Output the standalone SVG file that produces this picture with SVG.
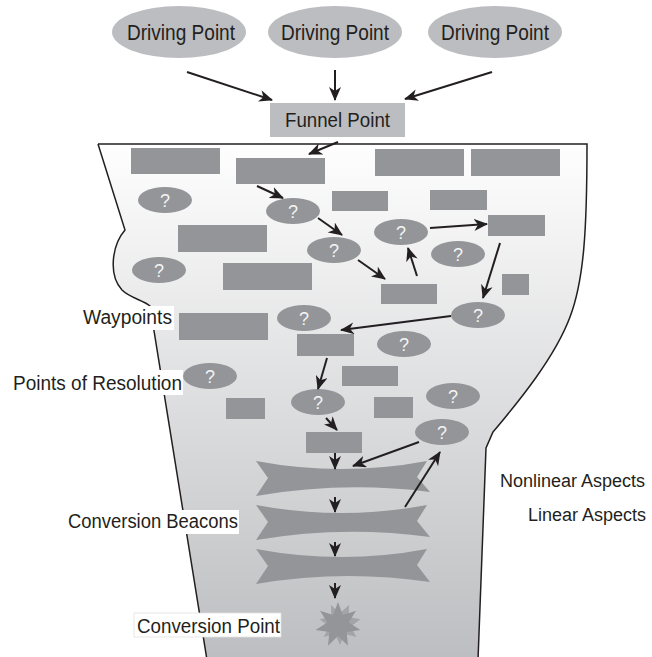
<svg xmlns="http://www.w3.org/2000/svg" width="652" height="657" viewBox="0 0 652 657">
<style>
.lbl{font-family:"Liberation Sans",Arial,sans-serif;font-size:20px;fill:#231f20}
.top{fill:#bcbdc0}
.dk{fill:#939598}
.q{font-family:"Liberation Sans",Arial,sans-serif;font-size:18px;fill:#f4f4f4;text-anchor:middle}
.c{stroke:#231f20;stroke-width:2;fill:none;marker-end:url(#ah)}
.bg{fill:#ffffff}
</style>
<defs>
<linearGradient id="fg" x1="0" y1="144" x2="0" y2="657" gradientUnits="userSpaceOnUse">
<stop offset="0" stop-color="#fefefe"/>
<stop offset="1" stop-color="#bdbec1"/>
</linearGradient>
<marker id="ah" viewBox="0 0 14 12" refX="13" refY="6" markerWidth="14" markerHeight="12" markerUnits="userSpaceOnUse" orient="auto">
<path d="M0,0 L14,6 L0,12 L4,6 Z" fill="#231f20"/>
</marker>
</defs>
<rect width="652" height="657" fill="#ffffff"/>

<g id="funnel">
<path d="M98,144 L587,144 C587,230 584,280 570,317 C555,357 520,400 493,432 L486,448 L478,660 L207,660 L150,306 C143,300 130,298 122,290 C108,275 112,245 125,230 Z" fill="url(#fg)"/>
<path d="M98,144 L587,144 C587,230 584,280 570,317 C555,357 520,400 493,432 L486,448 L478,660" fill="none" stroke="#231f20" stroke-width="1.5"/>
<path d="M98,144 L125,230 C112,245 108,275 122,290 C130,298 143,300 150,306 L207,660" fill="none" stroke="#231f20" stroke-width="1.5"/>
</g>

<g id="driving-point-1"><ellipse class="top" cx="179" cy="32" rx="67" ry="26"/><text class="lbl" x="127" y="40" textLength="108" lengthAdjust="spacingAndGlyphs" style="font-size:22px">Driving Point</text></g>
<g id="driving-point-2"><ellipse class="top" cx="335" cy="32" rx="67" ry="26"/><text class="lbl" x="281" y="40" textLength="108" lengthAdjust="spacingAndGlyphs" style="font-size:22px">Driving Point</text></g>
<g id="driving-point-3"><ellipse class="top" cx="495" cy="32" rx="67" ry="26"/><text class="lbl" x="441" y="40" textLength="108" lengthAdjust="spacingAndGlyphs" style="font-size:22px">Driving Point</text></g>
<g id="funnel-point"><rect class="top" x="270" y="103" width="135" height="34"/><text class="lbl" x="285" y="127" textLength="105" lengthAdjust="spacingAndGlyphs" style="font-size:21px">Funnel Point</text></g>

<g id="r1"><rect class="dk" x="131" y="148" width="89" height="26"/></g>
<g id="r2"><rect class="dk" x="236" y="158" width="89" height="26"/></g>
<g id="r3"><rect class="dk" x="375" y="149" width="89" height="27"/></g>
<g id="r4"><rect class="dk" x="471" y="149" width="89" height="27"/></g>
<g id="r5"><rect class="dk" x="332" y="191" width="56" height="20"/></g>
<g id="r6"><rect class="dk" x="430" y="190" width="57" height="20"/></g>
<g id="r7"><rect class="dk" x="178" y="225" width="89" height="27"/></g>
<g id="r8"><rect class="dk" x="488" y="215" width="57" height="21"/></g>
<g id="r9"><rect class="dk" x="223" y="263" width="89" height="27"/></g>
<g id="r10"><rect class="dk" x="381" y="284" width="56" height="20"/></g>
<g id="r11"><rect class="dk" x="502" y="274" width="27" height="21"/></g>
<g id="r12"><rect class="dk" x="179" y="313" width="89" height="27"/></g>
<g id="r13"><rect class="dk" x="297" y="334" width="57" height="22"/></g>
<g id="r14"><rect class="dk" x="342" y="366" width="56" height="20"/></g>
<g id="r15"><rect class="dk" x="226" y="398" width="39" height="21"/></g>
<g id="r16"><rect class="dk" x="374" y="397" width="39" height="21"/></g>
<g id="r17"><rect class="dk" x="306" y="432" width="56" height="21"/></g>

<g id="e1"><ellipse class="dk" cx="165" cy="200" rx="27" ry="13"/><text class="q" x="165" y="206.5">?</text></g>
<g id="e2"><ellipse class="dk" cx="293" cy="211" rx="27" ry="13"/><text class="q" x="293" y="217.5">?</text></g>
<g id="e3"><ellipse class="dk" cx="334" cy="250" rx="27" ry="13"/><text class="q" x="334" y="256.5">?</text></g>
<g id="e4"><ellipse class="dk" cx="401" cy="232" rx="27" ry="13"/><text class="q" x="401" y="238.5">?</text></g>
<g id="e5"><ellipse class="dk" cx="458" cy="254" rx="27" ry="13"/><text class="q" x="458" y="260.5">?</text></g>
<g id="e6"><ellipse class="dk" cx="159" cy="270" rx="27" ry="13"/><text class="q" x="159" y="276.5">?</text></g>
<g id="e7"><ellipse class="dk" cx="478" cy="315" rx="27" ry="13"/><text class="q" x="478" y="321.5">?</text></g>
<g id="e8"><ellipse class="dk" cx="304" cy="318" rx="27" ry="13"/><text class="q" x="304" y="324.5">?</text></g>
<g id="e9"><ellipse class="dk" cx="404" cy="344" rx="27" ry="13"/><text class="q" x="404" y="350.5">?</text></g>
<g id="e10"><ellipse class="dk" cx="210" cy="376" rx="27" ry="13"/><text class="q" x="210" y="382.5">?</text></g>
<g id="e11"><ellipse class="dk" cx="318" cy="402" rx="27" ry="13"/><text class="q" x="318" y="408.5">?</text></g>
<g id="e12"><ellipse class="dk" cx="453" cy="396" rx="27" ry="13"/><text class="q" x="453" y="402.5">?</text></g>
<g id="e13"><ellipse class="dk" cx="442" cy="432" rx="27" ry="13"/><text class="q" x="442" y="438.5">?</text></g>

<g id="beacon-1"><path class="dk" d="M256,461 Q341.5,477 427,461 L417,477 L430,492 Q343,481 256,496 L268,478 Z"/></g>
<g id="beacon-2"><path class="dk" d="M256,505 Q341.5,521 427,505 L417,521 L430,537 Q343,525 256,540 L268,522 Z"/></g>
<g id="beacon-3"><path class="dk" d="M256,549 Q341.5,565 427,549 L417,565 L430,582 Q343,569 256,584 L268,566 Z"/></g>

<g id="conversion-point">
<polygon fill="#a3a4a7" points="349.1,605.1 348.6,617.1 360.5,619.3 350.7,626.4 356.4,637.1 344.8,633.9 340,645 335.2,633.9 323.6,637.1 329.3,626.4 319.5,619.3 331.4,617.1 330.9,605.1 340,613"/>
<polygon class="dk" points="338,602 342.8,615.1 356,610.7 348.7,622.6 360.4,630.1 346.6,631.9 348,645.7 338,636 328,645.7 329.4,631.9 315.6,630.1 327.3,622.6 320,610.7 333.2,615.1"/>
</g>

<g id="connectors">
<line class="c" x1="187" y1="72" x2="272" y2="100"/>
<line class="c" x1="335" y1="70" x2="335" y2="100"/>
<line class="c" x1="492" y1="72" x2="405" y2="99"/>
<line class="c" x1="338" y1="142" x2="309" y2="154"/>
<line class="c" x1="257" y1="186" x2="283" y2="198"/>
<line class="c" x1="318" y1="218" x2="342" y2="235"/>
<line class="c" x1="358" y1="260" x2="385" y2="279"/>
<line class="c" x1="417" y1="276" x2="408" y2="248"/>
<line class="c" x1="430" y1="228" x2="487" y2="224"/>
<line class="c" x1="500" y1="243" x2="483" y2="298"/>
<line class="c" x1="451" y1="316" x2="341" y2="330"/>
<line class="c" x1="327" y1="358" x2="318" y2="389"/>
<line class="c" x1="326" y1="418" x2="337" y2="430"/>
<line class="c" x1="335" y1="453" x2="335" y2="469"/>
<line class="c" x1="419" y1="442" x2="353" y2="466"/>
<line class="c" x1="405" y1="507" x2="440" y2="452"/>
<line class="c" x1="335" y1="497" x2="335" y2="512"/>
<line class="c" x1="335" y1="542" x2="335" y2="556"/>
<line class="c" x1="335" y1="583" x2="335" y2="598"/>
</g>

<g id="label-waypoints"><rect class="bg" x="80" y="306" width="94" height="24"/><text class="lbl" x="83" y="324" textLength="89" lengthAdjust="spacingAndGlyphs">Waypoints</text></g>
<g id="label-resolution"><rect class="bg" x="10" y="370" width="173" height="25"/><text class="lbl" x="13" y="390" textLength="169" lengthAdjust="spacingAndGlyphs">Points of Resolution</text></g>
<g id="label-beacons"><rect class="bg" x="65" y="510" width="174" height="24"/><text class="lbl" x="68" y="528" textLength="170" lengthAdjust="spacingAndGlyphs">Conversion Beacons</text></g>
<g id="label-conversion"><rect x="134" y="613" width="147" height="24" fill="#ffffff" stroke="#e2e2e2" stroke-width="0.8"/><text class="lbl" x="137" y="633" textLength="143" lengthAdjust="spacingAndGlyphs">Conversion Point</text></g>
<g id="label-nonlinear"><text class="lbl" x="500" y="487" style="font-size:18px">Nonlinear Aspects</text></g>
<g id="label-linear"><text class="lbl" x="528" y="521" style="font-size:18px">Linear Aspects</text></g>
</svg>
